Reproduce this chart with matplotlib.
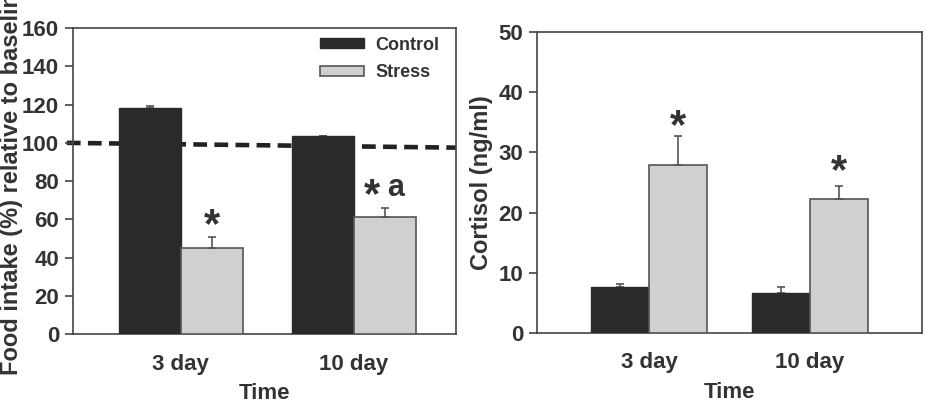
import matplotlib
matplotlib.use("Agg")
import matplotlib.pyplot as plt
import matplotlib.transforms as mtransforms
import numpy as np

plt.rcParams['font.family'] = ['Liberation Sans', 'DejaVu Sans']
plt.rcParams['font.weight'] = 'bold'

days = ['3 day', '10 day']
groups = ['Control', 'Stress']

food_control = [118.2, 103.5]
food_control_err = [1.3, 0.3]
food_stress = [45.1, 61.3]
food_stress_err = [5.8, 4.6]
food_star_y = [59.9, 75.8]
baseline = [100, 97.5]

cort_control = [7.7, 6.7]
cort_control_err = [0.4, 1.0]
cort_stress = [27.9, 22.3]
cort_stress_err = [4.8, 2.2]
cort_star_y = [35.4, 27.9]

TXT = '#333333'
DARK = '#2a2a2d'
LIGHT = '#d0d0d0'
EDGE = '#555555'
SPINE = '#444444'
FS = 16
STAR_FS = 30

fig = plt.figure(figsize=(9.26, 4.05), dpi=100)
ax1 = fig.add_axes([0.0788, 0.175, 0.4136, 0.7556])
ax2 = fig.add_axes([0.5799, 0.1778, 0.4158, 0.7432])

x = np.arange(len(days))
w = 0.36


def style(ax, ylim, yticks, xlim):
    ax.set_ylim(*ylim)
    ax.set_yticks(yticks)
    ax.set_xlim(*xlim)
    ax.set_xticks(x)
    ax.set_xticklabels(days)
    for s in ax.spines.values():
        s.set_color(SPINE)
        s.set_linewidth(1.2)
    ax.tick_params(axis='y', direction='out', length=6, width=1.2, color=SPINE,
                   labelsize=FS, labelcolor=TXT, pad=4)
    ax.tick_params(axis='x', length=0, labelsize=FS, labelcolor=TXT, pad=14)
    for lab in ax.get_xticklabels() + ax.get_yticklabels():
        lab.set_fontweight('bold')
    ax.set_xlabel('Time', fontsize=FS, color=TXT, fontweight='bold', labelpad=6)


def bars(ax, ctrl, ctrl_err, strs, strs_err):
    ax.bar(x - w / 2, ctrl, w, color=DARK, edgecolor=DARK, linewidth=1, zorder=3,
           label=groups[0])
    ax.bar(x + w / 2, strs, w, color=LIGHT, edgecolor=EDGE, linewidth=1.2, zorder=3,
           label=groups[1])
    ax.errorbar(x - w / 2, ctrl, yerr=[np.zeros(2), ctrl_err], fmt='none',
                ecolor=EDGE, elinewidth=1.2, capsize=3, capthick=1.2, zorder=2)
    ax.errorbar(x + w / 2, strs, yerr=[np.zeros(2), strs_err], fmt='none',
                ecolor=EDGE, elinewidth=1.2, capsize=3, capthick=1.2, zorder=4)


def mark(ax, xp, yp, s, size, mid):
    # baseline shifted so the glyph's ink is centred on yp
    ax.annotate(s, (xp, yp), xytext=(0, -mid * size), textcoords='offset points',
                ha='center', va='baseline', fontsize=size, fontweight='bold',
                color=TXT, zorder=5)


# left panel: food intake
style(ax1, (0, 160), range(0, 161, 20), (-0.624, 1.59))
trans = mtransforms.blended_transform_factory(ax1.transAxes, ax1.transData)
ax1.plot([-0.016, 1.0], baseline, transform=trans, color='#222222', lw=3.3,
         dashes=(3.0, 1.6), clip_on=False, zorder=1)
bars(ax1, food_control, food_control_err, food_stress, food_stress_err)
mark(ax1, x[0] + w / 2, food_star_y[0], '*', STAR_FS, 0.43)
mark(ax1, x[1] + w / 2 - 0.078, food_star_y[1], '*', STAR_FS, 0.43)
mark(ax1, x[1] + w / 2 + 0.061, food_star_y[1], 'a', 22, 0.24)
leg = ax1.legend(loc='upper left', bbox_to_anchor=(0.645, 0.972), frameon=False,
                 fontsize=13, handlelength=2.45, handleheight=0.5, labelspacing=0.58,
                 borderaxespad=0, handletextpad=0.6, borderpad=0)
for t in leg.get_texts():
    t.set_color(TXT)
    t.set_fontweight('bold')
fig.text(0.012, 0.074, 'Food intake (%) relative to baseline', rotation=90,
         ha='center', va='bottom', fontsize=17, fontweight='bold', color=TXT)

# right panel: cortisol
style(ax2, (0, 50), range(0, 51, 10), (-0.696, 1.696))
bars(ax2, cort_control, cort_control_err, cort_stress, cort_stress_err)
for i in range(len(days)):
    mark(ax2, x[i] + w / 2, cort_star_y[i], '*', STAR_FS, 0.43)
ax2.set_ylabel('Cortisol (ng/ml)', fontsize=17, fontweight='bold', color=TXT,
               labelpad=4)

fig.savefig('out.png', dpi=100)
